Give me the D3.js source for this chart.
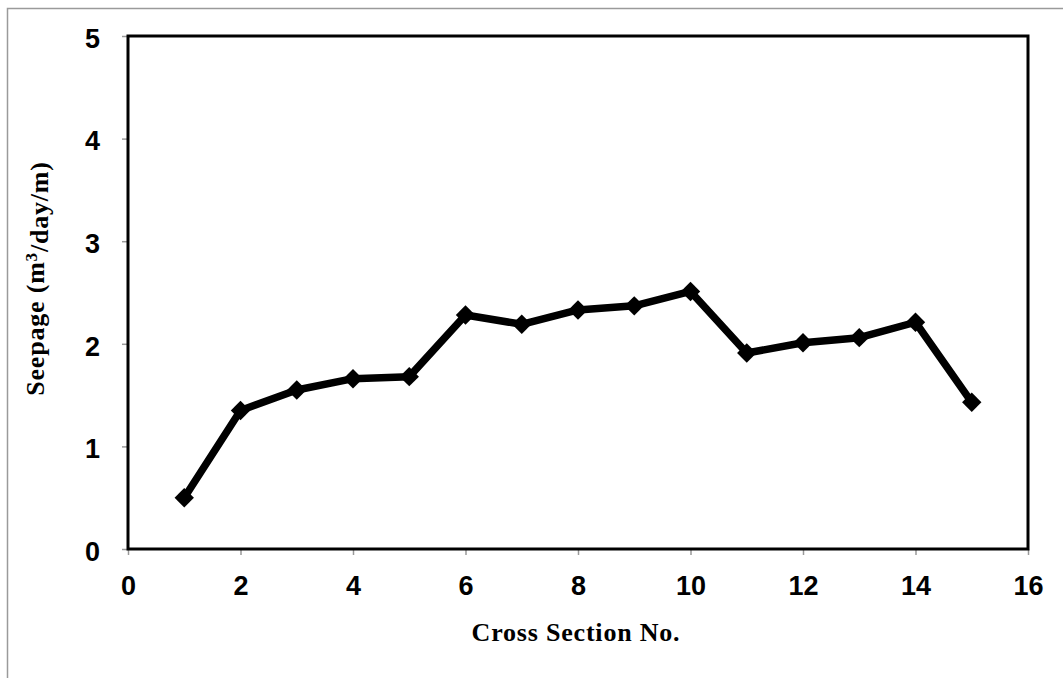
<!DOCTYPE html>
<html>
<head>
<meta charset="utf-8">
<script src="https://cdn.jsdelivr.net/npm/d3@7"></script>
<style>
  body { margin: 0; background: #fff; }
</style>
</head>
<body>
<div id="chart"></div>
<script>
// data
const sections = [1, 2, 3, 4, 5, 6, 7, 8, 9, 10, 11, 12, 13, 14, 15];
const seepage = [0.50, 1.35, 1.55, 1.66, 1.68, 2.28, 2.19, 2.33, 2.37, 2.51, 1.91, 2.01, 2.06, 2.21, 1.43];
const xTicks = [0, 2, 4, 6, 8, 10, 12, 14, 16];
const yTicks = [0, 1, 2, 3, 4, 5];

const W = 1063, H = 678;
const margin = {top: 36, right: 35, bottom: 129, left: 128},
    width = W - margin.left - margin.right,
    height = H - margin.top - margin.bottom;

const root = d3.select("#chart")
  .append("svg")
    .attr("width", W)
    .attr("height", H);

// outer chart border (gray)
root.append("rect")
    .attr("x", 7.5)
    .attr("y", 8.5)
    .attr("width", W)
    .attr("height", H)
    .attr("fill", "none")
    .attr("stroke", "#9a9a9a")
    .attr("stroke-width", 1.5);

const svg = root.append("g")
    .attr("transform", `translate(${margin.left},${margin.top})`);

const x = d3.scaleLinear().domain([0, 16]).range([0, width]);
const y = d3.scaleLinear().domain([0, 5]).range([height, 0]);

// axes: gray ticks, bold sans labels
const xAxis = svg.append("g")
    .attr("transform", `translate(0,${height})`)
    .call(d3.axisBottom(x).tickValues(xTicks).tickFormat(d3.format("d"))
      .tickSize(6).tickPadding(21).tickSizeOuter(0));
const yAxis = svg.append("g")
    .call(d3.axisLeft(y).tickValues(yTicks).tickFormat(d3.format("d"))
      .tickSize(6).tickPadding(22).tickSizeOuter(0));

[xAxis, yAxis].forEach(a => {
  a.select(".domain").remove();
  a.selectAll(".tick line").attr("stroke", "#999").attr("stroke-width", 1.5);
  a.selectAll(".tick text")
    .attr("fill", "#000")
    .style("font-family", "'Liberation Sans', Arial, sans-serif")
    .style("font-weight", "bold")
    .style("font-size", "27px");
});
yAxis.selectAll(".tick text").attr("dy", "0.42em");

// plot frame
svg.append("rect")
    .attr("x", 0)
    .attr("y", 0)
    .attr("width", width)
    .attr("height", height)
    .attr("fill", "none")
    .attr("stroke", "#000")
    .attr("stroke-width", 3);

// series line
const pts = sections.map((s, i) => [s, seepage[i]]);
svg.append("path")
    .datum(pts)
    .attr("fill", "none")
    .attr("stroke", "#000")
    .attr("stroke-width", 7.5)
    .attr("stroke-linejoin", "round")
    .attr("d", d3.line().x(d => x(d[0])).y(d => y(d[1])));

// diamond markers
const diamond = d3.symbol().type(d3.symbolDiamond2).size(240);
svg.append("g")
  .selectAll("path")
  .data(pts)
  .join("path")
    .attr("transform", d => `translate(${x(d[0])},${y(d[1])})`)
    .attr("d", diamond)
    .attr("fill", "#000");

// axis titles (serif bold)
svg.append("text")
    .attr("x", width / 2 - 2)
    .attr("y", height + 92)
    .attr("text-anchor", "middle")
    .style("font-family", "'Liberation Serif', 'DejaVu Serif', serif")
    .style("font-weight", "bold")
    .style("font-size", "26px")
    .style("letter-spacing", "0.8px")
    .text("Cross Section No.");

const yl = svg.append("text")
    .attr("transform", `translate(${-84},${height / 2 - 14}) rotate(-90)`)
    .attr("text-anchor", "middle")
    .style("font-family", "'Liberation Serif', 'DejaVu Serif', serif")
    .style("font-weight", "bold")
    .style("font-size", "26px")
    .style("letter-spacing", "0.8px");
yl.append("tspan").text("Seepage (m");
yl.append("tspan").attr("dy", "-0.4em").style("font-size", "17px").text("3");
yl.append("tspan").attr("dy", "0.4em").text("/day/m)");
</script>
</body>
</html>
